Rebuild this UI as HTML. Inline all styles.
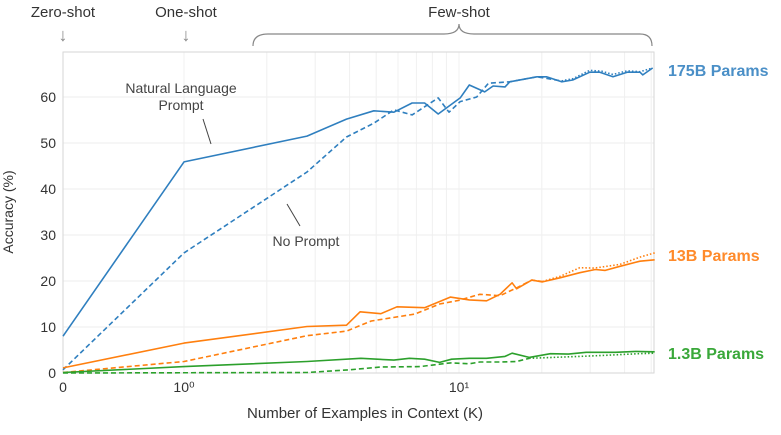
<!DOCTYPE html>
<html><head><meta charset="utf-8"><style>
body{margin:0;background:#fff;}
svg{display:block;font-family:"Liberation Sans",sans-serif;}
</style></head><body>
<svg id="chart" width="781" height="435" viewBox="0 0 781 435" xmlns="http://www.w3.org/2000/svg">
<g id="grid"></g>
<rect x="63" y="52" width="591" height="321" fill="none" stroke="#d6d6d6" stroke-width="1"/>
<g id="series"></g>
<g id="axes"></g>
<text transform="translate(13,212) rotate(-90)" text-anchor="middle" font-size="14" fill="#333">Accuracy (%)</text>
<text x="365" y="418" text-anchor="middle" font-size="15" fill="#333">Number of Examples in Context  (K)</text>
<text x="63" y="17" text-anchor="middle" font-size="15" fill="#333">Zero-shot</text>
<text x="63" y="41" text-anchor="middle" font-size="18" fill="#888">↓</text>
<text x="186" y="17" text-anchor="middle" font-size="15" fill="#333">One-shot</text>
<text x="186" y="41" text-anchor="middle" font-size="18" fill="#888">↓</text>
<text x="459" y="17" text-anchor="middle" font-size="15" fill="#333">Few-shot</text>
<path d="M253,46 Q253,34 268,34 L444,34 Q459,34 459,24 Q459,34 474,34 L640,34 Q652,34 652,46" fill="none" stroke="#888" stroke-width="1.2"/>
<text x="181" y="93" text-anchor="middle" font-size="14" fill="#444">Natural Language</text>
<text x="181" y="110" text-anchor="middle" font-size="14" fill="#444">Prompt</text>
<line x1="203" y1="119" x2="211" y2="144" stroke="#444" stroke-width="1"/>
<text x="306" y="246" text-anchor="middle" font-size="14" fill="#444">No Prompt</text>
<line x1="287" y1="204" x2="300" y2="226" stroke="#444" stroke-width="1"/>
<text x="668" y="76" font-size="16" font-weight="bold" fill="#4a8fc7">175B Params</text>
<text x="668" y="261" font-size="16" font-weight="bold" fill="#ff8a2a">13B Params</text>
<text x="668" y="359" font-size="16" font-weight="bold" fill="#3aa83a">1.3B Params</text>
</svg>
<script>
const yTicks=[0,10,20,30,40,50,60];
const xMajorTicks=[0,1,10];
const xTickLabels=["0","10⁰","10¹"];
const xMinorTicks=[2,3,4,5,6,7,8,9,20,30,40,50];

const kBlueSolid=[0,1,2.8,3.9,4.9,5.8,6.75,7.5,8.4,10.1,10.9,12.4,13.3,14.7,15.3,19.2,20.8,23.6,25.9,29.9,32.5,36.3,40.9,45.5,46.6,50.6];
const vBlueSolid=[8,45.9,51.5,55.2,57,56.7,58.7,58.7,56.3,59.8,62.6,61.1,62.4,62.2,63.3,64.4,64.4,63.3,63.7,65.4,65.4,64.4,65.4,65.4,64.8,66.3];
const kBlueDash=[0,1,2.8,3.9,4.9,5.8,6.75,8.4,9.2,10.1,11.6,12.8,15.3,19.2,23.6];
const vBlueDash=[0.7,26.1,43.7,51.3,54.3,57.2,56.1,59.8,56.7,59,60,63,63.3,64.4,63.5];
const kBlueDot=[23.6,26,29.9,33,36.3,40.9,45.5,50.6];
const vBlueDot=[63.5,64,65.8,65.6,64.9,65.7,65.5,66.3];

const kOrSolid=[0,1,2.8,3.9,4.37,5.2,5.95,7.5,9.3,10.9,12.6,14.1,15.6,16.2,18.4,20.1,23.3,27.5,31.3,34,38.5,45.5,51.5];
const vOrSolid=[1.1,6.5,10.1,10.4,13.3,12.9,14.4,14.2,16.5,15.9,15.7,17.1,19.6,18.3,20.2,19.8,20.7,21.8,22.5,22.3,23.2,24.3,24.6];
const kOrDash=[0,1,2.8,3.9,4.8,6.9,8.5,10,11.9,14.1,16.2,18.4,20.1];
const vOrDash=[0.1,2.5,8.1,9.1,11.3,12.8,15,15.8,17.1,16.8,18.5,20.2,19.9];
const kOrDot=[20.1,23.3,27.5,31,38.5,45.5,51.5];
const vOrDot=[19.9,21,22.9,22.8,23.6,25.2,26.1];

const kGrSolid=[0,1,2.8,4.4,5.8,6.6,7.5,8.5,9.4,10.9,12.6,14.7,15.6,18,21.5,25,29,37,44,51.5];
const vGrSolid=[0.1,1.4,2.5,3.2,2.8,3.2,3,2.3,3,3.2,3.2,3.6,4.3,3.4,4.2,4.1,4.5,4.5,4.7,4.6];
const kGrDash=[0,2.8,4,5.2,7.2,9.3,10.9,11.9,14.1,16.2,18];
const vGrDash=[0,0.1,0.7,1.3,1.4,2.2,2,2.4,2.4,2.5,3.2];
const kGrDot=[18,22,27.5,33,38.5,45,51.5];
const vGrDot=[3.2,3.4,3.6,3.8,4,4.2,4.3];

const X0=63,X1=184,DEC=275,Y0=373,YS=4.6;
function sx(k){return k<=1?X0+(X1-X0)*k:X1+DEC*Math.log10(k);}
function sy(v){return Y0-YS*v;}
const NS="http://www.w3.org/2000/svg";
const grid=document.getElementById('grid'),axes=document.getElementById('axes'),series=document.getElementById('series');
function mk(tag,attrs,parent){const e=document.createElementNS(NS,tag);for(const a in attrs)e.setAttribute(a,attrs[a]);parent.appendChild(e);return e;}
yTicks.forEach(v=>{
  const l=mk('line',{x1:63,x2:654,y1:sy(v),y2:sy(v),stroke:'#ececec','stroke-width':1},grid);
  
  
  const t=mk('text',{x:56,y:sy(v)+5,'text-anchor':'end','font-size':14,fill:'#333'},axes);
  t.textContent=v;
  
  
});
xMajorTicks.concat(xMinorTicks).forEach(k=>{
  const l=mk('line',{x1:sx(k),x2:sx(k),y1:52,y2:373,stroke:'#f0f0f0','stroke-width':1},grid);
  
  
});
xMajorTicks.forEach((k,i)=>{
  const t=mk('text',{x:sx(k),y:392,'text-anchor':'middle','font-size':14,fill:'#333'},axes);
  t.textContent=xTickLabels[i];
  
  
});
function line(ks,vs,color,dash,name){
  const d=ks.map((k,i)=>(i?'L':'M')+sx(k).toFixed(1)+','+sy(vs[i]).toFixed(1)).join(' ');
  const p=mk('path',{d:d,fill:'none',stroke:color,'stroke-width':1.6,'stroke-linejoin':'round'},series);
  if(dash)p.setAttribute('stroke-dasharray',dash);
  
  
}
const B='#2f7fbf',O='#ff7f0e',G='#2ca02c';
line(kBlueSolid,vBlueSolid,B,null,'line-175b-prompt');
line(kBlueDash,vBlueDash,B,'5,3','line-175b-no-prompt');
line(kBlueDot,vBlueDot,B,'1.5,2','line-175b-dotted');
line(kOrSolid,vOrSolid,O,null,'line-13b-prompt');
line(kOrDash,vOrDash,O,'5,3','line-13b-no-prompt');
line(kOrDot,vOrDot,O,'1.5,2','line-13b-dotted');
line(kGrSolid,vGrSolid,G,null,'line-1-3b-prompt');
line(kGrDash,vGrDash,G,'5,3','line-1-3b-no-prompt');
line(kGrDot,vGrDot,G,'1.5,2','line-1-3b-dotted');
</script>
</body></html>
